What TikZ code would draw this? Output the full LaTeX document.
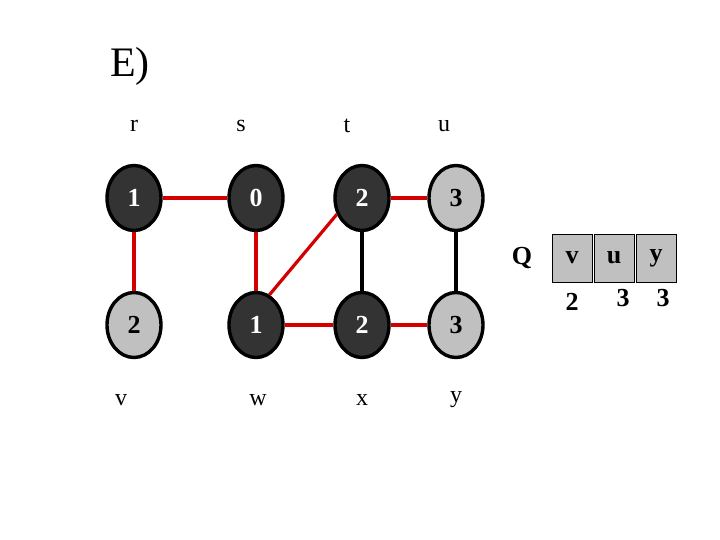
\documentclass[tikz,border=0pt]{standalone}
\usepackage{fontspec}
\setmainfont{Liberation Serif}
\usetikzlibrary{shapes.geometric}
\definecolor{darkv}{HTML}{333333}
\definecolor{lightv}{HTML}{C0C0C0}
\definecolor{redge}{HTML}{D40000}
\begin{document}
\begin{tikzpicture}[x=1pt,y=-1pt,
  vert/.style={ellipse,draw=black,line width=3.4pt,minimum width=54pt,minimum height=65pt,inner sep=0pt,font=\fontsize{26}{28}\selectfont\bfseries},
  darkvert/.style={vert,fill=darkv,text=white},
  lightvert/.style={vert,fill=lightv,text=black},
  lbl/.style={font=\fontsize{24}{26}\selectfont,inner sep=0pt},
  tree/.style={draw=redge,line width=3.2pt},
  plain/.style={draw=black,line width=3.2pt},
  qbox/.style={draw=black,fill=lightv,line width=0.8pt,minimum width=40pt,minimum height=48pt,inner sep=0pt,font=\fontsize{26}{28}\selectfont\bfseries}]
\useasboundingbox (0,0) rectangle (720,540);
\node[font=\fontsize{42}{46}\selectfont] (title) at (130,66) {E)};
\node[lbl] (lr) at (134,126) {r};
\node[lbl] (ls) at (241,126) {s};
\node[lbl] (lt) at (347,126) {t};
\node[lbl] (lu) at (444,126) {u};
\node[lbl] (lv) at (121,400) {v};
\node[lbl] (lw) at (258,400) {w};
\node[lbl] (lx) at (362,400) {x};
\node[lbl] (ly) at (456,400) {y};
\node[darkvert] (r) at (134,198) {1};
\node[darkvert] (s) at (256,198) {0};
\node[darkvert] (t) at (362,198) {2};
\node[lightvert] (u) at (456,198) {3};
\node[lightvert] (v) at (134,325) {2};
\node[darkvert] (w) at (256,325) {1};
\node[darkvert] (x) at (362,325) {2};
\node[lightvert] (y) at (456,325) {3};
\draw[tree] (r) -- (s);
\draw[tree] (r) -- (v);
\draw[tree] (s) -- (w);
\draw[tree] (w.66) -- (t.213);
\draw[tree] (t) -- (u);
\draw[plain] (t) -- (x);
\draw[plain] (u) -- (y);
\draw[tree] (w) -- (x);
\draw[tree] (x) -- (y);
\node[lbl,font=\fontsize{26}{28}\selectfont\bfseries] (q) at (522,258) {Q};
\node[qbox] (q1) at (572,258) {v};
\node[qbox] (q2) at (614,258) {u};
\node[qbox] (q3) at (656,258) {y};
\node[lbl,font=\fontsize{26}{28}\selectfont\bfseries] (d1) at (572,302) {2};
\node[lbl,font=\fontsize{26}{28}\selectfont\bfseries] (d2) at (623,298) {3};
\node[lbl,font=\fontsize{26}{28}\selectfont\bfseries] (d3) at (663,298) {3};
\end{tikzpicture}
\end{document}
